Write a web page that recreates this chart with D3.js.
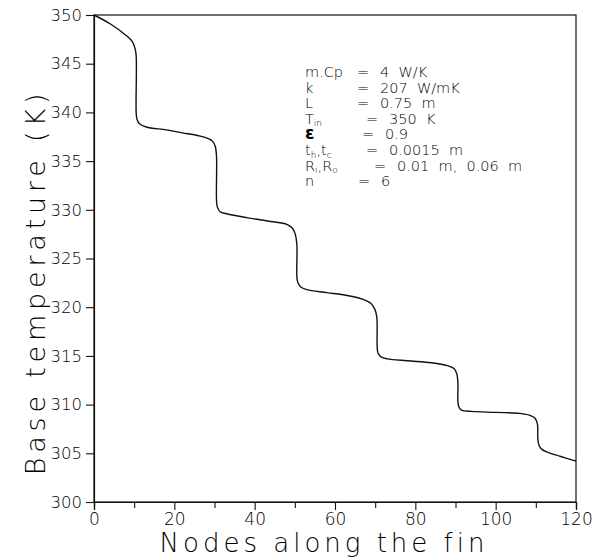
<!DOCTYPE html>
<html>
<head>
<meta charset="utf-8">
<script src="https://cdn.jsdelivr.net/npm/d3@7"></script>
<style>
  html, body { margin: 0; padding: 0; background: #fff; }
  svg { display: block; }
  text { font-family: "DejaVu Sans", "Liberation Sans", sans-serif; fill: #000; }
</style>
</head>
<body>
<svg id="chart" width="609" height="560"></svg>
<script>
// Base temperature profile along the fin nodes (node index, temperature in K)
const nodes = [0, 4, 8, 9.5, 10.2, 10.5, 10.5, 10.7, 11.4, 13, 18, 22, 26, 28.5, 29.6, 30.2, 30.5, 30.5, 30.7, 31.4, 33, 38, 44, 48, 49.4, 50.1, 50.5, 50.5, 50.7, 51.4, 53, 58, 63, 67, 68.9, 69.9, 70.4, 70.5, 70.7, 71.5, 73, 78, 84, 88, 89.6, 90.3, 90.6, 90.6, 90.9, 91.6, 94, 100, 106, 108.5, 109.8, 110.4, 110.5, 110.8, 111.5, 113, 116, 120];
const temps = [350, 349.1, 347.9, 347.3, 346.6, 345.8, 340, 339.3, 338.8, 338.5, 338.2, 337.9, 337.6, 337.3, 337.0, 336.5, 335.5, 331, 330.3, 329.8, 329.6, 329.2, 328.8, 328.5, 328.1, 327.5, 326.5, 323.2, 322.6, 322.1, 321.8, 321.5, 321.2, 320.8, 320.4, 319.8, 319.0, 316, 315.3, 314.9, 314.7, 314.5, 314.3, 314.0, 313.7, 313.2, 312.3, 310.3, 309.7, 309.4, 309.3, 309.2, 309.1, 308.9, 308.6, 308.0, 306.5, 305.8, 305.4, 305.1, 304.7, 304.2];

// Axis ticks
const xMajorTicks = [0, 20, 40, 60, 80, 100, 120];
const xMinorTicks = [10, 30, 50, 70, 90, 110];
const yTicks = [300, 305, 310, 315, 320, 325, 330, 335, 340, 345, 350];

// Parameter legend
const paramNames = ["m.Cp", "k", "L", "T|in", "ε", "t|h|,t|c", "R|i|,R|o", "n"];
const paramValues = ["4  W/K", "207  W/mK", "0.75  m", "350  K", "0.9", "0.0015  m", "0.01  m,  0.06  m", "6"];

const svg = d3.select("#chart");
const plotLeft = 94, plotRight = 576, plotTop = 15, plotBottom = 502;

const x = d3.scaleLinear().domain([0, 120]).range([plotLeft, plotRight]);
const y = d3.scaleLinear().domain([300, 350]).range([plotBottom, plotTop]);

// Frame
svg.append("rect")
  .attr("x", plotLeft).attr("y", plotTop)
  .attr("width", plotRight - plotLeft).attr("height", plotBottom - plotTop)
  .attr("fill", "none").attr("stroke", "#111").attr("stroke-width", 1.2);

// X axis (major ticks labelled, minor unlabelled)
const xAxis = svg.append("g").attr("transform", `translate(0,${plotBottom})`);
xAxis.call(d3.axisBottom(x).tickValues(xMajorTicks).tickSize(8).tickPadding(3).tickFormat(d3.format("d")));
xAxis.append("g").call(d3.axisBottom(x).tickValues(xMinorTicks).tickSize(6).tickFormat(""));
xAxis.selectAll(".domain").attr("stroke", "#111").attr("stroke-width", 1.2);
xAxis.selectAll(".tick line").attr("stroke", "#111").attr("stroke-width", 1.1);
xAxis.selectAll(".tick text")
  .style("font-family", "DejaVu Sans, sans-serif").style("font-size", "17px")
  .style("font-weight", "200").attr("fill", "#000");

// Y axis
const yAxis = svg.append("g").attr("transform", `translate(${plotLeft},0)`);
yAxis.call(d3.axisLeft(y).tickValues(yTicks).tickSize(8).tickPadding(4).tickFormat(d3.format("d")));
yAxis.selectAll(".domain").attr("stroke", "#111").attr("stroke-width", 1.2);
yAxis.selectAll(".tick line").attr("stroke", "#111").attr("stroke-width", 1.1);
yAxis.selectAll(".tick text")
  .style("font-family", "DejaVu Sans, sans-serif").style("font-size", "16.5px")
  .style("font-weight", "200").attr("fill", "#000");

// Temperature curve
const pts = nodes.map((n, i) => [n, temps[i]]);
const line = d3.line()
  .x(d => x(d[0])).y(d => y(d[1]))
  .curve(d3.curveCatmullRom.alpha(0.5));
svg.append("path")
  .datum(pts)
  .attr("d", line)
  .attr("fill", "none")
  .attr("stroke", "#111")
  .attr("stroke-width", 1.4);

// Axis titles
svg.append("text")
  .attr("x", 324).attr("y", 552)
  .attr("text-anchor", "middle")
  .style("font-size", "26px").style("font-weight", "200")
  .style("letter-spacing", "4px")
  .text("Nodes along the fin");

svg.append("text")
  .attr("transform", "translate(45,282) rotate(-90)")
  .attr("text-anchor", "middle")
  .style("font-size", "27px").style("font-weight", "200")
  .style("letter-spacing", "4.8px")
  .text("Base temperature (K)");

// Parameter block
const rowY0 = 77, rowStep = 15.6, labelX = 305;
const eqX = [357, 357, 357, 366, 362, 366, 374, 358];
const legend = svg.append("g").style("font-size", "14.5px").style("font-weight", "200");

paramNames.forEach((name, i) => {
  const yy = rowY0 + i * rowStep;
  const t = legend.append("text").attr("x", labelX).attr("y", yy);
  const parts = name.split("|");
  if (name === "ε") {
    t.append("tspan").style("font-size", "17px").style("font-weight", "bold").text(name);
  } else {
    parts.forEach((p, j) => {
      const isSub = j % 2 === 1;
      const ts = t.append("tspan").text(p);
      if (isSub) ts.style("font-size", "9px").attr("dy", 2.5);
      else if (j > 0) ts.attr("dy", -2.5);
    });
  }
  legend.append("text").attr("x", eqX[i]).attr("y", yy).text("=");
  legend.append("text").attr("x", eqX[i] + 23).attr("y", yy)
    .attr("xml:space", "preserve").style("white-space", "pre")
    .text(paramValues[i]);
});
</script>
</body>
</html>
